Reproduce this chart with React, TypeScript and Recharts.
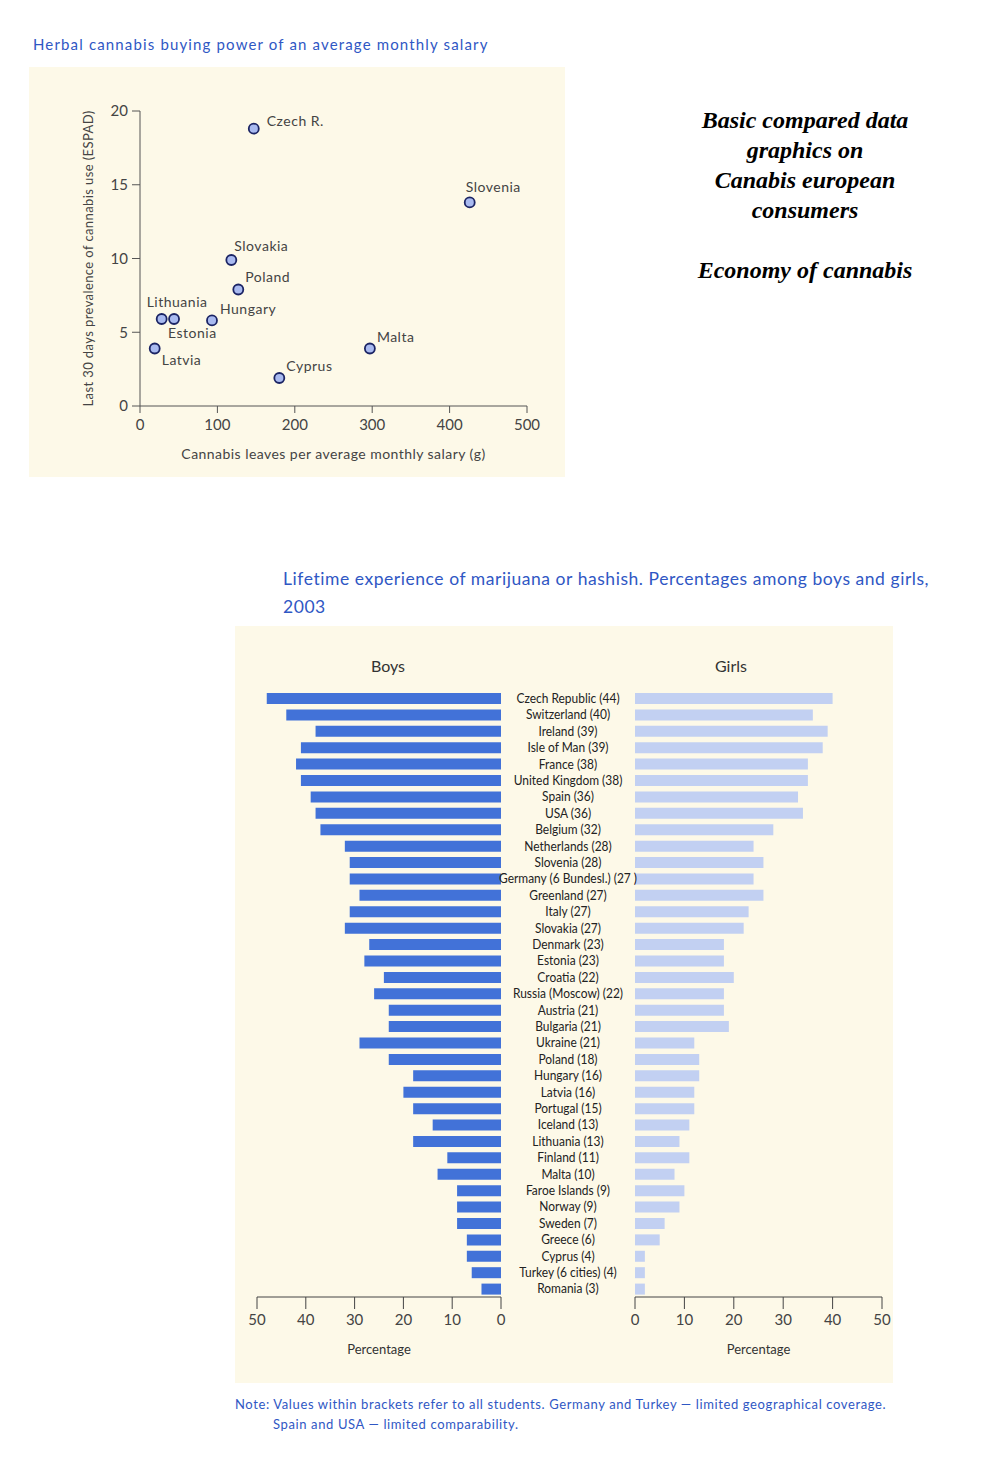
import React from "react";
import {
  ScatterChart,
  Scatter,
  BarChart,
  Bar,
  XAxis,
  YAxis,
} from "recharts";

// scatter: herbal cannabis buying power
const scatterNames = ["Czech R.", "Slovenia", "Slovakia", "Poland", "Lithuania", "Hungary", "Estonia", "Latvia", "Malta", "Cyprus"];
const gramsPerSalary = [147, 426, 118, 127, 28, 93, 44, 19, 297, 180];
const prevalence30d = [18.8, 13.8, 9.9, 7.9, 5.9, 5.8, 5.9, 3.9, 3.9, 1.9];
const scatterXTicks = [0, 100, 200, 300, 400, 500];
const scatterYTicks = [0, 5, 10, 15, 20];

// bars: lifetime experience, 2003
const countries = [
  "Czech Republic (44)", "Switzerland (40)", "Ireland (39)", "Isle of Man (39)", "France (38)",
  "United Kingdom (38)", "Spain (36)", "USA (36)", "Belgium (32)", "Netherlands (28)",
  "Slovenia (28)", "Germany (6 Bundesl.) (27 )", "Greenland (27)", "Italy (27)", "Slovakia (27)",
  "Denmark (23)", "Estonia (23)", "Croatia (22)", "Russia (Moscow) (22)", "Austria (21)",
  "Bulgaria (21)", "Ukraine (21)", "Poland (18)", "Hungary (16)", "Latvia (16)",
  "Portugal (15)", "Iceland (13)", "Lithuania (13)", "Finland (11)", "Malta (10)",
  "Faroe Islands (9)", "Norway (9)", "Sweden (7)", "Greece (6)", "Cyprus (4)",
  "Turkey (6 cities) (4)", "Romania (3)",
];
const boys = [48, 44, 38, 41, 42, 41, 39, 38, 37, 32, 31, 31, 29, 31, 32, 27, 28, 24, 26, 23, 23, 29, 23, 18, 20, 18, 14, 18, 11, 13, 9, 9, 9, 7, 7, 6, 4];
const girls = [40, 36, 39, 38, 35, 35, 33, 34, 28, 24, 26, 24, 26, 23, 22, 18, 18, 20, 18, 18, 19, 12, 13, 13, 12, 12, 11, 9, 11, 8, 10, 9, 6, 5, 2, 2, 2];
const pctTicks = [0, 10, 20, 30, 40, 50];

const scatterData = scatterNames.map((name, i) => ({ name, x: gramsPerSalary[i], y: prevalence30d[i] }));
const barData = countries.map((name, i) => ({ name, boys: boys[i], girls: girls[i] }));

const BG = "#fdf9e8";
const BLUE_TEXT = "#2f57c4";
const FUTURA = "Lato, 'Open Sans', sans-serif";

// where each point's name sits relative to the marker
const labelOffset: Record<string, [number, number]> = {
  "Czech R.": [13, -8],
  Slovenia: [-4, -16],
  Slovakia: [3, -14],
  Poland: [7, -13],
  Lithuania: [-15, -17],
  Hungary: [8, -12],
  Estonia: [-6, 14],
  Latvia: [7, 11],
  Malta: [7, -12],
  Cyprus: [7, -12],
};

const PointShape = (props: any) => {
  const { cx, cy, payload } = props;
  const [dx, dy] = labelOffset[payload.name] ?? [8, -10];
  return (
    <g>
      <circle cx={cx} cy={cy} r={5} fill="#a9baf0" stroke="#1b2464" strokeWidth={1.8} />
      <text x={cx + dx} y={cy + dy} dominantBaseline="central" fontSize={14} fill="#444" fontFamily={FUTURA} letterSpacing={0.5}>
        {payload.name}
      </text>
    </g>
  );
};

// condensed look for the country names: squeeze the text horizontally
const CountryTick = (props: any) => {
  const { x, y, payload } = props;
  return (
    <text
      transform={`translate(${x - 67}, ${y}) scale(0.92, 1)`}
      textAnchor="middle"
      dominantBaseline="central"
      fontSize={13}
      fill="#222"
      fontFamily={FUTURA}
    >
      {payload.value}
    </text>
  );
};

const axisTick = { fontSize: 15, fill: "#444", fontFamily: FUTURA };

export default function App() {
  return (
    <div style={{ position: "absolute", left: 0, top: 0, width: 1000, height: 1467, background: "#fff", fontFamily: FUTURA }}>
      <div style={{ position: "absolute", left: 33, top: 35, fontSize: 15, letterSpacing: 1.15, color: BLUE_TEXT, whiteSpace: "nowrap" }}>
        Herbal cannabis buying power of an average monthly salary
      </div>

      <div style={{ position: "absolute", left: 29, top: 67, width: 536, height: 410, background: BG }}>
        <ScatterChart width={536} height={410} margin={{ top: 44, right: 38, bottom: 15, left: 0 }}>
          <XAxis
            type="number"
            dataKey="x"
            domain={[0, 500]}
            ticks={scatterXTicks}
            tickSize={7}
            tickMargin={6}
            height={56}
            stroke="#555"
            tick={axisTick}
            label={{ value: "Cannabis leaves per average monthly salary (g)", position: "insideBottom", offset: 3, style: { fontSize: 14, fill: "#444", fontFamily: FUTURA, letterSpacing: 0.45 } }}
          />
          <YAxis
            type="number"
            dataKey="y"
            domain={[0, 20]}
            ticks={scatterYTicks}
            tickSize={8}
            tickMargin={4}
            width={111}
            stroke="#555"
            tick={axisTick}
            label={{ value: "Last 30 days prevalence of cannabis use (ESPAD)", angle: -90, position: "insideLeft", offset: 59, style: { fontSize: 13, fill: "#444", fontFamily: FUTURA, textAnchor: "middle", letterSpacing: 0.4 } }}
          />
          <Scatter data={scatterData} shape={PointShape} isAnimationActive={false} />
        </ScatterChart>
      </div>

      <div style={{ position: "absolute", left: 655, top: 105, width: 300, textAlign: "center", fontFamily: "'Liberation Serif', 'Times New Roman', serif", fontWeight: "bold", fontStyle: "italic", fontSize: 24, lineHeight: "30px", color: "#000" }}>
        Basic compared data<br />graphics on<br />Canabis european<br />consumers<br /><br />Economy of cannabis
      </div>

      <div style={{ position: "absolute", left: 283, top: 565, fontSize: 17.5, lineHeight: "28px", letterSpacing: 0.55, color: BLUE_TEXT, whiteSpace: "nowrap" }}>
        Lifetime experience of marijuana or hashish. Percentages among boys and girls,<br />2003
      </div>

      <div style={{ position: "absolute", left: 235, top: 626, width: 658, height: 757, background: BG }} />
      <div style={{ position: "absolute", left: 388, top: 665, transform: "translate(-50%, -50%)", fontSize: 16, color: "#333" }}>Boys</div>
      <div style={{ position: "absolute", left: 731, top: 665, transform: "translate(-50%, -50%)", fontSize: 16, color: "#333" }}>Girls</div>

      <div style={{ position: "absolute", left: 235, top: 626 }}>
        <BarChart layout="vertical" width={278} height={757} data={barData} margin={{ top: 64, right: 12, bottom: 26, left: 22 }} barCategoryGap={0}>
          <XAxis
            type="number"
            domain={[0, 50]}
            ticks={pctTicks}
            reversed
            tickSize={12}
            tickMargin={5}
            height={60}
            stroke="#444"
            tick={axisTick}
            label={{ value: "Percentage", position: "insideBottom", offset: 3, style: { fontSize: 13, fill: "#333", fontFamily: FUTURA } }}
          />
          <YAxis type="category" dataKey="name" hide />
          <Bar dataKey="boys" fill="#4272d8" barSize={11} isAnimationActive={false} />
        </BarChart>
      </div>

      <div style={{ position: "absolute", left: 481, top: 626 }}>
        <BarChart layout="vertical" width={412} height={757} data={barData} margin={{ top: 64, right: 11, bottom: 26, left: 0 }} barCategoryGap={0}>
          <XAxis
            type="number"
            domain={[0, 50]}
            ticks={pctTicks}
            tickSize={12}
            tickMargin={5}
            height={60}
            stroke="#444"
            tick={axisTick}
            label={{ value: "Percentage", position: "insideBottom", offset: 3, style: { fontSize: 13, fill: "#333", fontFamily: FUTURA } }}
          />
          <YAxis type="category" dataKey="name" width={154} axisLine={false} tickLine={false} tickSize={0} tickMargin={0} tick={CountryTick} interval={0} />
          <Bar dataKey="girls" fill="#c2d0f2" barSize={11} isAnimationActive={false} />
        </BarChart>
      </div>

      <div style={{ position: "absolute", left: 235, top: 1394, fontSize: 13, lineHeight: "20px", letterSpacing: 0.62, color: BLUE_TEXT, whiteSpace: "nowrap" }}>
        Note: Values within brackets refer to all students. Germany and Turkey — limited geographical coverage.
        <div style={{ paddingLeft: 38 }}>Spain and USA — limited comparability.</div>
      </div>
    </div>
  );
}
